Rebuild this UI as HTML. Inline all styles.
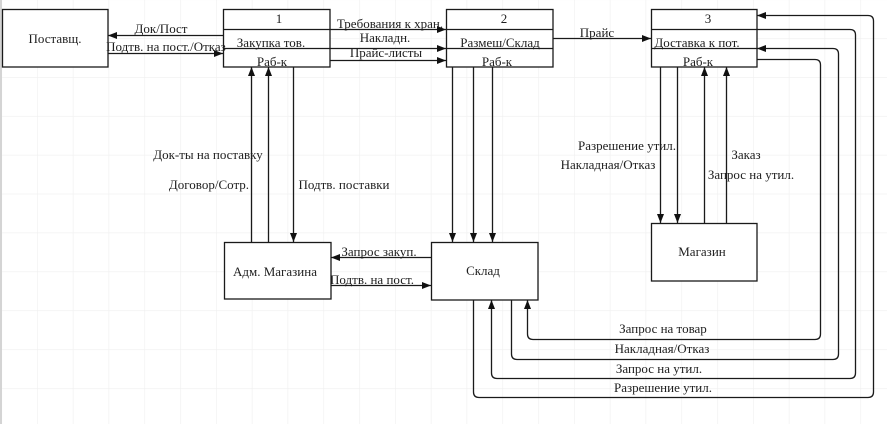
<!DOCTYPE html>
<html><head><meta charset="utf-8"><style>
html,body{margin:0;padding:0;background:#fff;}
svg{display:block;}
text{font-family:"Liberation Serif","Noto Serif CJK SC",serif;font-size:13px;fill:#1e1e1e;}
</style></head><body>
<svg width="887" height="424" viewBox="0 0 887 424" xmlns="http://www.w3.org/2000/svg">
<defs>
<pattern id="g" x="1.2" y="-0.8" width="35.8" height="38.9" patternUnits="userSpaceOnUse">
<path d="M0,0 H35.8 M0,0 V38.9" stroke="#efefef" stroke-width="1.2" fill="none"/>
</pattern>
<marker id="a" markerUnits="userSpaceOnUse" markerWidth="10" markerHeight="8" refX="9" refY="4" orient="auto">
<path d="M0,0.5 L9,4 L0,7.5 z" fill="#111"/>
</marker>
</defs>
<rect width="887" height="424" fill="#fff"/>
<rect width="887" height="424" fill="url(#g)"/>
<rect x="0" y="0" width="2" height="424" fill="#d4d4d4"/>

<g stroke="#1a1a1a" stroke-width="1.3" fill="none">
<!-- boxes -->
<rect x="2.5" y="9.5" width="105.5" height="57.5" fill="#fff"/>
<rect x="223.5" y="9.5" width="106.5" height="57.5" fill="#fff"/>
<rect x="446.5" y="9.5" width="106.5" height="57.5" fill="#fff"/>
<rect x="651.5" y="9.5" width="105.5" height="57.5" fill="#fff"/>
<rect x="224.5" y="242.5" width="106.5" height="56.5" fill="#fff"/>
<rect x="431.5" y="242.5" width="106.5" height="57.5" fill="#fff"/>
<rect x="651.5" y="223.5" width="105.5" height="57.5" fill="#fff"/>

<!-- dividers -->
<path d="M446.5,29.5 H553 M446.5,48.5 H553"/>
<path d="M651.5,29.5 H757 M651.5,48.5 H757"/>

<!-- box1 -> box2 -->
<path d="M223.5,29.5 H446" marker-end="url(#a)"/>
<path d="M223.5,48.5 H446" marker-end="url(#a)"/>
<path d="M330,60.5 H446" marker-end="url(#a)"/>
<!-- Prais -->
<path d="M553,38.5 H651" marker-end="url(#a)"/>
<!-- postavsh -->
<path d="M223,35.5 H108" marker-end="url(#a)"/>
<path d="M108,53.5 H223" marker-end="url(#a)"/>

<!-- box1 verticals -->
<path d="M251.5,242 V67" marker-end="url(#a)"/>
<path d="M268.5,242 V67" marker-end="url(#a)"/>
<path d="M293.5,67 V242" marker-end="url(#a)"/>
<!-- adm <-> sklad -->
<path d="M431,257.5 H331" marker-end="url(#a)"/>
<path d="M331,285.5 H431" marker-end="url(#a)"/>
<!-- box2 down -->
<path d="M452.5,67 V242" marker-end="url(#a)"/>
<path d="M473.5,67 V242" marker-end="url(#a)"/>
<path d="M492.5,67 V242" marker-end="url(#a)"/>
<!-- box3 <-> magazin -->
<path d="M660.5,67 V223" marker-end="url(#a)"/>
<path d="M677.5,67 V223" marker-end="url(#a)"/>
<path d="M704.5,223 V67" marker-end="url(#a)"/>
<path d="M726.5,223 V67" marker-end="url(#a)"/>

<!-- loops -->
<path d="M757,59.5 H815 Q820.5,59.5 820.5,65 V334 Q820.5,339.5 815,339.5 H533 Q527.5,339.5 527.5,334 V300" marker-end="url(#a)"/>
<path d="M511.5,300 V354 Q511.5,359.5 517,359.5 H833 Q838.5,359.5 838.5,354 V54 Q838.5,48.5 833,48.5 H757" marker-end="url(#a)"/>
<path d="M757,29.5 H850 Q855.5,29.5 855.5,35 V373 Q855.5,378.5 850,378.5 H497 Q491.5,378.5 491.5,373 V300" marker-end="url(#a)"/>
<path d="M473.5,300 V392 Q473.5,397.5 479,397.5 H868 Q873.5,397.5 873.5,392 V21 Q873.5,15.5 868,15.5 H757" marker-end="url(#a)"/>
</g>

<g text-anchor="middle">
<text x="55" y="43">Поставщ.</text>
<text x="161" y="33">Док/Пост</text>
<text x="166" y="51">Подтв. на пост./Отказ</text>

<text x="279" y="23">1</text>
<text x="271" y="47">Закупка тов.</text>
<text x="272" y="66">Раб-к</text>

<text x="504" y="23">2</text>
<text x="500" y="47">Размеш/Склад</text>
<text x="497" y="66">Раб-к</text>

<text x="708" y="23">3</text>
<text x="697" y="47">Доставка к пот.</text>
<text x="698" y="66">Раб-к</text>

<text x="390" y="28">Требования к хран.</text>
<text x="385" y="42">Накладн.</text>
<text x="386" y="57">Прайс-листы</text>
<text x="597" y="37">Прайс</text>

<text x="208" y="159">Док-ты на поставку</text>
<text x="209" y="189">Договор/Сотр.</text>
<text x="344" y="189">Подтв. поставки</text>

<text x="379" y="256">Запрос закуп.</text>
<text x="372" y="284">Подтв. на пост.</text>
<text x="275" y="276">Адм. Магазина</text>
<text x="483" y="275">Склад</text>
<text x="702" y="256">Магазин</text>

<text x="627" y="150">Разрешение утил.</text>
<text x="608" y="169">Накладная/Отказ</text>
<text x="746" y="159">Заказ</text>
<text x="751" y="179">Запрос на утил.</text>

<text x="663" y="333">Запрос на товар</text>
<text x="662" y="353">Накладная/Отказ</text>
<text x="659" y="373">Запрос на утил.</text>
<text x="663" y="392">Разрешение утил.</text>
</g>
</svg>
</body></html>
